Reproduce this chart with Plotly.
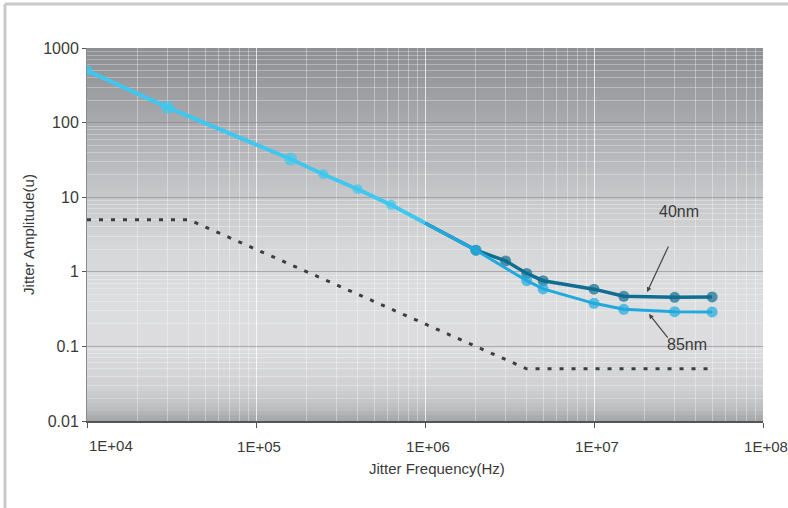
import numpy as np
import plotly.graph_objects as go

# ---------------- data ----------------
common_freq = [1e4, 3e4, 1.6e5, 2.5e5, 4e5, 6.3e5, 1e6]
common_amp = [500, 160, 32.5, 20.3, 12.8, 7.9, 4.5]

nm40_freq = [1e6, 2e6, 3e6, 4e6, 5e6, 1e7, 1.5e7, 3e7, 5e7]
nm40_amp = [4.5, 1.95, 1.4, 0.95, 0.76, 0.585, 0.47, 0.455, 0.46]

nm85_freq = [1e6, 2e6, 4e6, 5e6, 1e7, 1.5e7, 3e7, 5e7]
nm85_amp = [4.5, 1.95, 0.76, 0.59, 0.378, 0.314, 0.292, 0.29]

mask_freq = [1e4, 4e4, 4e6, 5e7]
mask_amp = [5, 5, 0.05, 0.05]

x_tick_vals = [1e4, 1e5, 1e6, 1e7, 1e8]
x_tick_text = ["1E+04", "1E+05", "1E+06", "1E+07", "1E+08"]
y_tick_vals = [0.01, 0.1, 1, 10, 100, 1000]
y_tick_text = ["0.01", "0.1", "1", "10", "100", "1000"]

# ---------------- styling ----------------
FONT = "Liberation Sans, Arial, sans-serif"
TXT = "#3a3a3a"
W, H = 788, 508
ML, MR, MT, MB = 87, 25, 48, 87
PW, PH = W - ML - MR, H - MT - MB

x_minor = [k * 10 ** d for d in range(4, 8) for k in range(2, 10)]
y_minor = [k * 10.0 ** d for d in range(-2, 3) for k in range(2, 10)]

fig = go.Figure()

# plot-area gradient (pixel row -> gray)
stops = [(48, (0x8d, 0x8e, 0x92)), (100, (0xa0, 0xa1, 0xa5)), (150, (0xb4, 0xb5, 0xb8)),
         (200, (0xc8, 0xc9, 0xcb)), (250, (0xd6, 0xd7, 0xd9)), (300, (0xdc, 0xdd, 0xdf)),
         (350, (0xdc, 0xdc, 0xde)), (390, (0xcf, 0xd0, 0xd2)), (410, (0xbc, 0xbd, 0xbf)),
         (421, (0xa3, 0xa4, 0xa6))]
sp = np.array([s[0] for s in stops], float)
cols = np.array([s[1] for s in stops], float)
shapes = []
step = 4
for py in range(48, 421, step):
    mid = py + step / 2
    c = [int(round(np.interp(mid, sp, cols[:, k]))) for k in range(3)]
    y1 = (H - MB - py) / PH
    y0 = (H - MB - min(py + step, 421)) / PH
    shapes.append(dict(type="rect", xref="paper", yref="paper", x0=0, x1=1,
                       y0=max(y0, 0), y1=min(y1 + 0.002, 1), layer="below",
                       line=dict(width=0), fillcolor=f"rgb({c[0]},{c[1]},{c[2]})"))

# outer frame (top and left light-gray border)
fx = (5 - ML) / PW
fy = (H - MB - 4) / PH
shapes.append(dict(type="line", xref="paper", yref="paper", x0=fx, x1=1.2, y0=fy, y1=fy,
                   line=dict(color="#c9c9c9", width=3)))
shapes.append(dict(type="line", xref="paper", yref="paper", x0=fx, x1=fx, y0=fy, y1=-0.3,
                   line=dict(color="#c9c9c9", width=3)))

# mask (dotted)
fig.add_trace(go.Scatter(x=mask_freq, y=mask_amp, mode="lines",
                         line=dict(color="#3d3d3d", width=3, dash="4px,8px"),
                         showlegend=False, hoverinfo="skip"))

# 40nm
fig.add_trace(go.Scatter(x=nm40_freq, y=nm40_amp, mode="lines+markers",
                         line=dict(color="#0f6d92", width=3.5),
                         marker=dict(color="#0f6d92", line=dict(width=0),
                                     size=[0] + [11] * (len(nm40_freq) - 1)),
                         showlegend=False))
# 85nm
fig.add_trace(go.Scatter(x=nm85_freq, y=nm85_amp, mode="lines+markers",
                         line=dict(color="#1fa9de", width=3),
                         marker=dict(color="#1fa9de", line=dict(width=0),
                                     size=[0] + [11] * (len(nm85_freq) - 1)),
                         showlegend=False))
# common part
fig.add_trace(go.Scatter(x=common_freq, y=common_amp, mode="lines+markers",
                         line=dict(color="#3fc7ef", width=4),
                         marker=dict(color="#3fc7ef", line=dict(width=0),
                                     size=[11, 13, 13, 10, 10, 10, 0]),
                         showlegend=False))

annotations = [
    dict(x=np.log10(1e4), y=0, xref="x", yref="paper", text="1E+04", showarrow=False,
         xanchor="left", yanchor="middle", yshift=-24, font=dict(family=FONT, size=15, color=TXT)),
    dict(x=(437 - ML) / PW, y=0, xref="paper", yref="paper", text="Jitter Frequency(Hz)",
         showarrow=False, xanchor="center", yanchor="middle", yshift=-47,
         font=dict(family=FONT, size=15, color=TXT)),
    # arrows
    dict(x=7.314, y=-0.271, xref="x", yref="y", ax=22, ay=-47, text="", showarrow=True,
         arrowhead=2, arrowsize=0.8, arrowwidth=1.2, arrowcolor="#444"),
    dict(x=7.325, y=-0.566, xref="x", yref="y", ax=20, ay=25, text="", showarrow=True,
         arrowhead=2, arrowsize=0.8, arrowwidth=1.2, arrowcolor="#444"),
    dict(x=7.503, y=0.815, xref="x", yref="y", text="40nm", showarrow=False,
         font=dict(family=FONT, size=16, color=TXT)),
    dict(x=7.55, y=-0.981, xref="x", yref="y", text="85nm", showarrow=False,
         font=dict(family=FONT, size=16, color=TXT)),
]

fig.update_layout(
    width=W, height=H,
    margin=dict(l=ML, r=MR, t=MT, b=MB),
    paper_bgcolor="white", plot_bgcolor="rgba(0,0,0,0)",
    shapes=shapes, annotations=annotations,
    font=dict(family=FONT, size=16, color=TXT),
)
fig.update_xaxes(
    type="log", range=[4, 8], tickvals=x_tick_vals, automargin=False,
    ticktext=[""] + x_tick_text[1:], ticklabelshift=3, ticklabelstandoff=6,
    ticklabeloverflow="allow",
    ticks="outside", ticklen=5, tickcolor="#555",
    showline=True, linecolor="#555", linewidth=1.5, mirror=False,
    showgrid=True, gridcolor="rgba(255,255,255,0.75)", gridwidth=1,
    minor=dict(tickvals=x_minor, ticks="", showgrid=True,
               gridcolor="rgba(255,255,255,0.35)", gridwidth=1),
    zeroline=False,
    tickfont=dict(size=15, family=FONT, color=TXT),
)
fig.update_yaxes(
    type="log", range=[-2, 3], tickvals=y_tick_vals, ticktext=y_tick_text, automargin=False,
    ticks="outside", ticklen=4, tickcolor="#555",
    showline=True, linecolor="#8a8a8a", linewidth=1,
    showgrid=True, gridcolor="rgba(130,130,130,0.55)", gridwidth=1,
    minor=dict(tickvals=y_minor, ticks="", showgrid=True,
               gridcolor="rgba(255,255,255,0.3)", gridwidth=1),
    zeroline=False,
    title=dict(text="Jitter Amplitude(u)", font=dict(size=15, family=FONT, color=TXT), standoff=4),
    tickfont=dict(size=16, family=FONT, color=TXT),
)

fig.write_html("out.html")
